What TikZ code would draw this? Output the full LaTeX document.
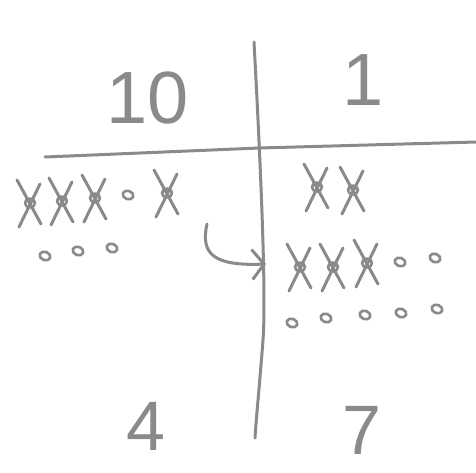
\documentclass[tikz,border=0pt]{standalone}
\usepackage{fontspec}
\setmainfont{Liberation Sans}
\usetikzlibrary{arrows.meta}
\definecolor{pen}{HTML}{8A8A8A}
\tikzset{
  ink/.style={draw=pen, line width=3pt, line cap=round, line join=round},
  digit/.style={text=pen, font=\fontsize{74}{74}\selectfont, inner sep=0pt},
  result/.style={text=pen, font=\fontsize{70}{70}\selectfont, inner sep=0pt},
  crossed/.pic={
    \draw[ink] (-13,-23) -- (11,21);
    \draw[ink] (10,-19) -- (-11,24);
    \draw[ink, line width=2.6pt] (0,0) ellipse [x radius=5, y radius=4.5];
  },
  ring/.pic={
    \draw[ink, line width=2.6pt, rotate=-20] (0,0) ellipse [x radius=5.5, y radius=4.2];
  }
}
\begin{document}
\begin{tikzpicture}[x=1pt, y=-1pt]
\useasboundingbox (0,0) rectangle (476,472);
% grid lines
\coordinate (vtop) at (254,42);
\coordinate (vbot) at (255,438);
\coordinate (hleft) at (45,157);
\coordinate (hright) at (476,142);
\draw[ink] (vtop) .. controls (262,190) and (266,300) .. (263,340) .. controls (260,380) and (256,420) .. (vbot);
\draw[ink] (hleft) -- (259,148) -- (hright);
% headers and results
\node[digit] (ten) at (148,98) {10};
\node[digit] (one) at (363,80) {1};
\node[result] (four) at (146,426) {4};
\node[result] (seven) at (362,430) {7};
% tens column
\pic at (30,203) {crossed};
\pic at (62,201) {crossed};
\pic at (95,198) {crossed};
\pic at (128,195) {ring};
\pic at (167,193) {crossed};
\pic at (45,256) {ring};
\pic at (78,251) {ring};
\pic at (112,248) {ring};
% regroup arrow
\coordinate (astart) at (207,224);
\coordinate (aend) at (266,264);
\draw[ink, -{Straight Barb[length=12pt,width=30pt]}] (astart) .. controls (200,255) and (215,266) .. (aend);
% ones column
\pic at (317,187) {crossed};
\pic at (353,190) {crossed};
\pic at (300,267) {crossed};
\pic at (333,267) {crossed};
\pic at (367,263) {crossed};
\pic at (400,262) {ring};
\pic at (435,258) {ring};
\pic at (292,323) {ring};
\pic at (326,318) {ring};
\pic at (365,315) {ring};
\pic at (401,313) {ring};
\pic at (437,309) {ring};
\end{tikzpicture}
\end{document}
